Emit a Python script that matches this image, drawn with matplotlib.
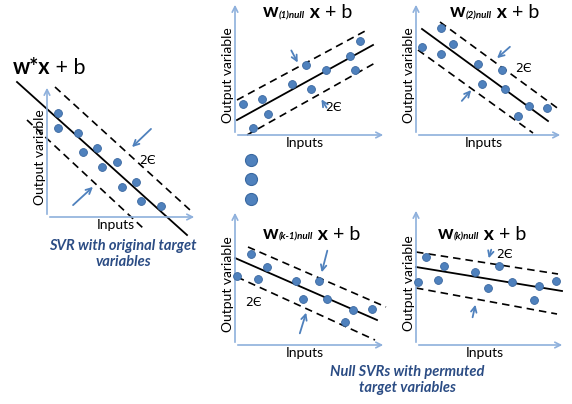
import matplotlib
matplotlib.use("Agg")
import matplotlib.pyplot as plt

plt.rcParams['font.family'] = ['Lato', 'DejaVu Sans']

W, H = 572, 404

# panel frames in pixels: origin x, origin y, x-axis length, y-axis length
frames = {
    'orig': (47, 217, 150, 132),
    'n1': (235, 135, 151, 133),
    'n2': (416, 135, 147, 133),
    'nk1': (235, 345, 151, 135),
    'nk': (416, 345, 149, 137),
}

# subscript of the weight vector in each title
subs = {
    'orig': None,
    'n1': '(1)null',
    'n2': '(2)null',
    'nk1': '(k-1)null',
    'nk': '(k)null',
}

# observations (inputs, output) per panel
pts_x = {
    'orig': [11, 11, 31, 36, 50, 70, 55, 89, 75, 94, 114],
    'n1': [8, 18, 27, 33, 57, 76, 71, 91, 115, 120, 125],
    'n2': [25, 6, 37, 25, 62, 86, 66, 89, 113, 131, 102],
    'nk1': [16, 32, 2, 23, 61, 84, 68, 92, 118, 137, 110],
    'nk': [10, 2, 22, 28, 59, 72, 83, 96, 123, 118, 140],
}
pts_y = {
    'orig': [104, 89, 84, 65, 69, 55, 50, 35, 30, 16, 11],
    'n1': [31, 7, 36, 21, 51, 46, 70, 65, 79, 65, 94],
    'n2': [107, 88, 91, 81, 71, 65, 51, 46, 29, 27, 19],
    'nk1': [91, 78, 69, 66, 64, 64, 46, 46, 35, 36, 23],
    'nk': [88, 63, 65, 79, 73, 57, 79, 63, 59, 45, 64],
}

# regression line and epsilon tube ends: (x0, y0, x1, y1)
fit_line = {
    'orig': (-30, 135, 140, -18),
    'n1': (2, 15, 138, 90),
    'n2': (6, 106, 132, 14),
    'nk1': (0, 87, 142, 25),
    'nk': (0, 78, 146, 54),
}
tube_up = {
    'orig': (8, 130, 143, 7),
    'n1': (2, 35, 132, 105),
    'n2': (24, 113, 144, 25),
    'nk1': (13, 98, 151, 38),
    'nk': (0, 93, 142, 71),
}
tube_lo = {
    'orig': (-20, 97, 96, -11),
    'n1': (12, 0, 140, 72),
    'n2': (2, 85, 117, 2),
    'nk1': (2, 68, 140, 5),
    'nk': (0, 57, 141, 31),
}
# margin arrows: (tail x, tail y, head x, head y)
arrow_a = {
    'orig': (106, 90, 83, 68),
    'n1': (55, 87, 64, 70),
    'n2': (96, 90, 79, 75),
    'nk1': (93, 97, 86, 70),
    'nk': (76, 98, 72, 84),
}
arrow_b = {
    'orig': (24, 10, 48, 32),
    'n1': (93, 25, 85, 38),
    'n2': (44, 32, 57, 47),
    'nk1': (64, 9, 72, 35),
    'nk': (56, 25, 60, 43),
}
eps_pos = {
    'orig': (100, 57),
    'n1': (98, 28),
    'n2': (107, 67),
    'nk1': (18, 43),
    'nk': (88, 90),
}
# left end of title, bottom of text
title_pos = {
    'orig': (-34, 139),
    'n1': (28, 115),
    'n2': (34, 115),
    'nk1': (28, 103),
    'nk': (22, 103),
}

captions = ["SVR with original target\nvariables", "Null SVRs with permuted\ntarget variables"]

dot_col = '#4f81bd'
axis_col = '#8eb0dc'
cap_col = '#2b4c84'

fig = plt.figure(figsize=(W / 100, H / 100), dpi=100)


def chain(ax, prev, s, **kw):
    return ax.annotate(s, xy=(1, 0), xycoords=prev, va='bottom', ha='left', **kw)


for key, (ox, oy, lx, ly) in frames.items():
    ax = fig.add_axes([ox / W, 1 - oy / H, lx / W, ly / H])
    ax.set_xlim(0, lx)
    ax.set_ylim(0, ly)
    ax.axis('off')
    # axes arrows
    ax.annotate('', xy=(lx, 0), xytext=(0, 0), annotation_clip=False,
                arrowprops=dict(arrowstyle='->', color=axis_col, lw=1.2))
    ax.annotate('', xy=(0, ly), xytext=(0, 0), annotation_clip=False,
                arrowprops=dict(arrowstyle='->', color=axis_col, lw=1.2))
    x0, y0, x1, y1 = fit_line[key]
    ax.plot([x0, x1], [y0, y1], color='black', lw=1.3, clip_on=False)
    for tube in (tube_up, tube_lo):
        x0, y0, x1, y1 = tube[key]
        ax.plot([x0, x1], [y0, y1], color='black', lw=1.2, ls=(0, (4.5, 3)), clip_on=False)
    ax.scatter(pts_x[key], pts_y[key], s=32, color=dot_col, edgecolor='#3a68a0',
               linewidth=0.6, zorder=3, clip_on=False)
    for arr in (arrow_a, arrow_b):
        tx, ty, hx, hy = arr[key]
        ax.annotate('', xy=(hx, hy), xytext=(tx, ty), annotation_clip=False,
                    arrowprops=dict(arrowstyle='->', color=dot_col, lw=1.3))
    ex, ey = eps_pos[key]
    ax.text(ex, ey, '2Є', fontsize=9, ha='center', va='center', family=['DejaVu Sans'])
    tx, ty = title_pos[key]
    if subs[key] is None:
        t = ax.text(tx, ty, 'w*x', fontsize=15.5, fontweight='bold', va='bottom')
        chain(ax, t, ' + b', fontsize=15.5)
    else:
        t = ax.text(tx, ty, 'w', fontsize=14, fontweight='bold', va='bottom')
        t = chain(ax, t, subs[key], fontsize=7, fontweight='bold', style='italic')
        t = ax.annotate(' x', xy=(1, 0), xycoords=t, xytext=(0, -0.8),
                        textcoords='offset points', va='bottom', ha='left',
                        fontsize=14, fontweight='bold')
        chain(ax, t, ' + b', fontsize=14)
    ax.text(-7, ly * 0.45, 'Output variable', rotation=90, fontsize=10,
            ha='center', va='center')
    ax.text(lx * 0.46, -8, 'Inputs', fontsize=10, ha='center', va='center')

# the "more panels" dots
over = fig.add_axes([0, 0, 1, 1])
over.set_xlim(0, W)
over.set_ylim(H, 0)
over.axis('off')
over.scatter([251, 251, 251], [160, 179, 199], s=75, color=dot_col, edgecolor='#3a68a0', linewidth=0.8)
over.text(123, 254, captions[0], color=cap_col, fontsize=10.5, fontweight='bold',
          style='italic', ha='center', va='center', linespacing=1.25)
over.text(407, 380, captions[1], color=cap_col, fontsize=10.5, fontweight='bold',
          style='italic', ha='center', va='center', linespacing=1.25)

fig.savefig('out.png', dpi=100)
